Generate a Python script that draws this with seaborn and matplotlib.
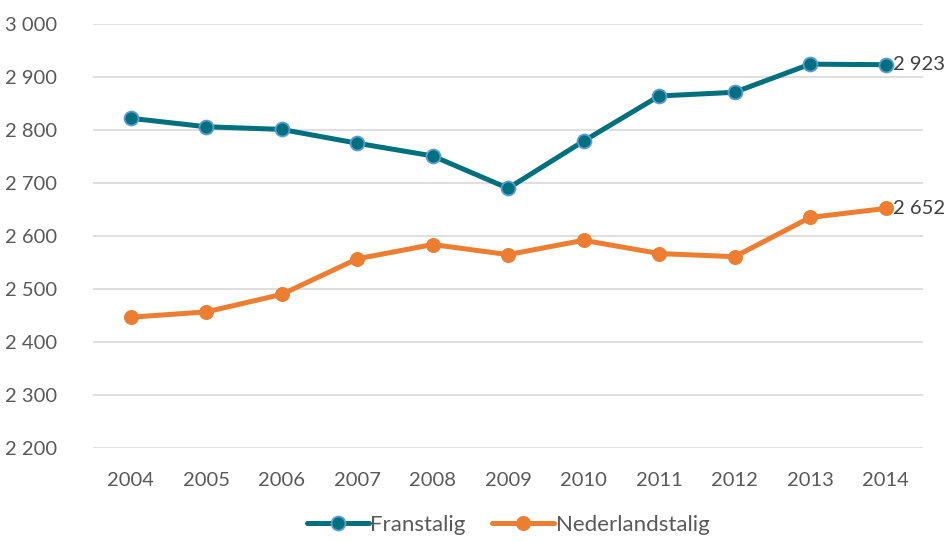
import pandas as pd
import matplotlib.pyplot as plt
import seaborn as sns
from matplotlib.ticker import FuncFormatter

sns.set_style("white")
plt.rcParams["font.family"] = ["Lato", "DejaVu Sans"]

# === Data ===
years = [2004, 2005, 2006, 2007, 2008, 2009, 2010, 2011, 2012, 2013, 2014]
franstalig = [2822, 2806, 2801, 2775, 2751, 2690, 2779, 2864, 2871, 2924, 2923]
nederlandstalig = [2447, 2457, 2490, 2557, 2584, 2565, 2592, 2567, 2561, 2635, 2652]

df = pd.DataFrame({
    "year": years * 2,
    "value": franstalig + nederlandstalig,
    "group": ["Franstalig"] * len(years) + ["Nederlandstalig"] * len(years),
})

teal = "#00707F"
orange = "#ED7D31"
grey_txt = "#595959"

fig = plt.figure(figsize=(9.48, 5.42), dpi=100)
ax = fig.add_axes([0.098, 0.173, 0.876, 0.783])

sns.lineplot(data=df[df["group"] == "Franstalig"], x="year", y="value",
             color=teal, linewidth=3.6, marker="o", markersize=10,
             markerfacecolor=teal, markeredgecolor="#5B9BD5", markeredgewidth=1.3,
             label="Franstalig", ax=ax)
sns.lineplot(data=df[df["group"] == "Nederlandstalig"], x="year", y="value",
             color=orange, linewidth=3.6, marker="o", markersize=10,
             markerfacecolor=orange, markeredgecolor=orange,
             label="Nederlandstalig", ax=ax)

def space_thousands(v, pos):
    return f"{int(v):,}".replace(",", " ")

ax.set_ylim(2200, 3000)
ax.set_xlim(2003.5, 2014.5)
ax.set_yticks(range(2200, 3001, 100))
ax.set_xticks(years)
ax.yaxis.set_major_formatter(FuncFormatter(space_thousands))
ax.grid(axis="y", color="#D9D9D9", linewidth=1.2)
ax.set_axisbelow(True)
for s in ax.spines.values():
    s.set_visible(False)
ax.tick_params(axis="both", length=0, labelsize=14.5, labelcolor=grey_txt)
ax.tick_params(axis="y", pad=26)
ax.tick_params(axis="x", pad=17)
ax.set_xlabel("")
ax.set_ylabel("")

# end labels
ax.annotate(space_thousands(franstalig[-1], None), (years[-1], franstalig[-1]),
            xytext=(5, 0), textcoords="offset points", va="center", ha="left",
            fontsize=14.5, color="#404040")
ax.annotate(space_thousands(nederlandstalig[-1], None), (years[-1], nederlandstalig[-1]),
            xytext=(5, 0), textcoords="offset points", va="center", ha="left",
            fontsize=14.5, color="#404040")

leg = ax.legend(loc="upper center", bbox_to_anchor=(0.5, -0.126), ncol=2,
                frameon=False, fontsize=16, handlelength=2.8, handletextpad=0.05,
                columnspacing=1.2, borderpad=0.1)
for t in leg.get_texts():
    t.set_color(grey_txt)

fig.savefig("out.png", dpi=100)
